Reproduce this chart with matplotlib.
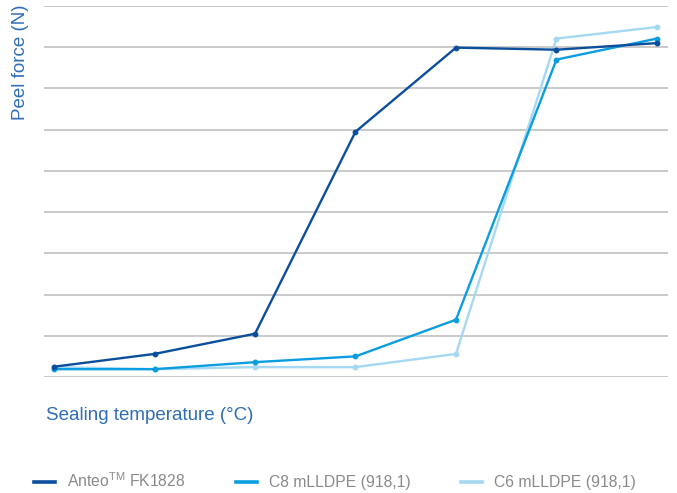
import numpy as np
import matplotlib
matplotlib.use('Agg')
import matplotlib.pyplot as plt

# Data (peel force in gridline units)
temps = [0, 1, 2, 3, 4, 5, 6]
anteo = [0.25, 0.56, 1.05, 5.95, 7.99, 7.94, 8.10]
c8 = [0.19, 0.19, 0.36, 0.50, 1.39, 7.70, 8.21]
c6 = [0.24, 0.19, 0.24, 0.24, 0.56, 8.21, 8.49]

labels = ['Anteo$^{\\mathregular{TM}}$ FK1828', 'C8 mLLDPE (918,1)', 'C6 mLLDPE (918,1)']
colors = ['#0b4f9c', '#0a9de0', '#a5d8f3']

plt.rcParams['font.family'] = ['Liberation Sans', 'DejaVu Sans']

fig = plt.figure(figsize=(6.77, 4.93), dpi=100)
ax = fig.add_axes([44 / 677, 1 - 377 / 493, 624 / 677, 371 / 493])

for i in range(10):
    ax.axhline(i, color='#c6c6c6', linewidth=1.3, zorder=0)

for series, col, lab in zip([c6, c8, anteo], colors[::-1], labels[::-1]):
    ax.plot(temps, series, color=col, linewidth=1.7, marker='o', markersize=3.2, label=lab)

ax.set_xlim(-0.1, 6.11)
ax.set_ylim(0, 9)
ax.set_xticks([])
ax.set_yticks([])
for s in ax.spines.values():
    s.set_visible(False)

fig.text(21 / 677, 1 - 62 / 493, 'Peel force (N)', rotation=90, ha='center', va='center',
         color='#2f6db5', fontsize=13.5)
fig.text(46 / 677, 1 - 415 / 493, 'Sealing temperature (°C)', ha='left', va='center',
         color='#2f6db5', fontsize=13.5)

handles, labs = ax.get_legend_handles_labels()
leg = fig.legend(handles[::-1], labs[::-1], loc='center left', bbox_to_anchor=(20 / 677, 1 - 481 / 493),
                 ncol=3, frameon=False, handlelength=1.35, handletextpad=0.75, columnspacing=3.2,
                 fontsize=11.3)
for h in leg.legend_handles:
    h.set_marker('')
    h.set_linewidth(2.6)
for t in leg.get_texts():
    t.set_color('#8a8a8a')

fig.savefig('out.png', dpi=100)
